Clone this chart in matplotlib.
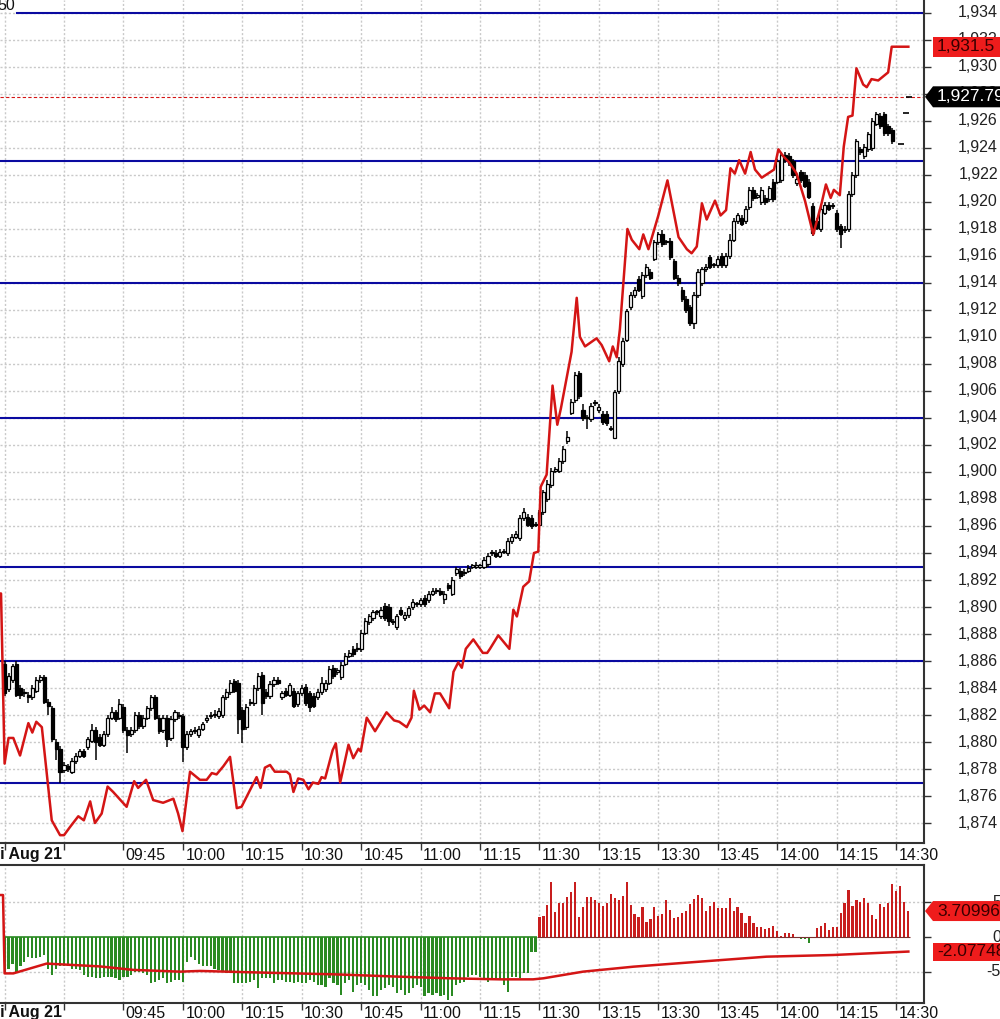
import matplotlib
matplotlib.use("Agg")
import matplotlib.pyplot as plt
import matplotlib.transforms as mtransforms
from matplotlib.patches import Rectangle, Polygon
import numpy as np

plt.rcParams['font.family'] = ['Liberation Sans', 'DejaVu Sans']

# one bar per minute, 0 = 09:15, 135 = 13:00 (lunch break removed)
tick_idx = [0, 15, 30, 45, 60, 75, 90, 105, 120, 135, 150, 165, 180, 195, 210, 225]
tick_lab = ['', '', '09:45', '10:00', '10:15', '10:30', '10:45', '11:00', '11:15',
            '11:30', '13:15', '13:30', '13:45', '14:00', '14:15', '14:30']
date_label = 'Fri Aug 21'

# candles (open, close, high, low)
c_open = [1885.8, 1883.9, 1884.6, 1885.8, 1884.0, 1883.7, 1883.5, 1883.3, 1883.8, 1884.6,
          1884.8, 1883.0, 1882.5, 1880.0, 1879.5, 1877.9, 1878.2, 1877.8, 1878.6, 1879.0,
          1879.3, 1879.6, 1880.1, 1880.9, 1880.4, 1879.8, 1880.6, 1881.8, 1882.2, 1881.8,
          1882.6, 1880.9, 1880.6, 1880.9, 1882.0, 1881.2, 1881.8, 1882.5, 1883.3, 1881.8,
          1880.9, 1881.8, 1880.3, 1881.7, 1882.0, 1881.9, 1879.6, 1880.6, 1880.8, 1880.5,
          1881.0, 1881.6, 1881.9, 1882.0, 1881.9, 1882.0, 1883.3, 1883.7, 1884.5, 1884.4,
          1882.4, 1881.1, 1882.9, 1882.9, 1884.0, 1885.0, 1883.7, 1883.4, 1884.3, 1884.6,
          1883.3, 1883.8, 1883.5, 1883.8, 1882.8, 1883.6, 1884.1, 1883.6, 1883.4, 1883.3,
          1883.7, 1883.9, 1884.4, 1885.5, 1885.2, 1884.8, 1885.8, 1886.4, 1886.9, 1886.9,
          1886.9, 1888.1, 1888.9, 1889.2, 1889.6, 1889.3, 1890.1, 1890.0, 1888.9, 1888.5,
          1889.8, 1889.2, 1889.4, 1890.0, 1890.2, 1890.2, 1890.7, 1890.5, 1891.0, 1891.2,
          1891.2, 1890.6, 1891.6, 1891.0, 1892.5, 1892.7, 1892.5, 1892.7, 1893.0, 1893.0,
          1893.0, 1893.0, 1893.2, 1894.0, 1894.0, 1893.8, 1894.1, 1894.0, 1894.9, 1895.2,
          1895.1, 1896.6, 1896.7, 1896.6, 1896.1, 1896.1, 1897.0, 1898.0, 1899.0, 1900.1,
          1900.1, 1900.8, 1902.3, 1904.4, 1905.3, 1907.3, 1904.6, 1904.0, 1903.9, 1905.1,
          1904.6, 1904.3, 1904.3, 1903.2, 1902.5, 1906.0, 1908.0, 1909.8, 1912.2, 1913.1,
          1914.3, 1913.0, 1914.6, 1914.8, 1915.8, 1917.0, 1917.6, 1917.0, 1917.1, 1915.6,
          1914.4, 1913.5, 1912.8, 1912.2, 1911.0, 1913.1, 1914.0, 1915.0, 1915.9, 1915.3,
          1915.3, 1916.0, 1915.3, 1916.0, 1917.2, 1918.6, 1918.8, 1918.6, 1919.6, 1920.9,
          1920.4, 1920.0, 1920.3, 1920.2, 1921.5, 1921.5, 1921.6, 1923.5, 1923.4, 1923.0,
          1921.4, 1922.2, 1922.0, 1921.5, 1919.7, 1918.6, 1918.0, 1919.2, 1919.8, 1919.7,
          1919.2, 1918.2, 1918.0, 1918.0, 1920.6, 1922.0, 1923.9, 1923.4, 1923.9, 1924.0,
          1925.8, 1926.4, 1926.5, 1925.6, 1925.3]
c_close = [1883.6, 1884.9, 1885.6, 1883.5, 1883.5, 1883.6, 1883.3, 1884.0, 1884.6, 1884.8,
           1883.0, 1882.7, 1880.2, 1879.5, 1877.8, 1878.3, 1878.0, 1878.6, 1879.0, 1879.3,
           1879.0, 1880.2, 1880.9, 1880.0, 1879.8, 1880.6, 1881.8, 1882.2, 1881.7, 1882.8,
           1880.9, 1880.5, 1880.9, 1882.0, 1881.2, 1881.8, 1882.5, 1883.3, 1881.8, 1880.8,
           1881.8, 1880.2, 1881.7, 1882.2, 1881.9, 1879.6, 1880.6, 1880.8, 1880.9, 1881.0,
           1881.3, 1881.8, 1882.0, 1882.0, 1882.3, 1883.3, 1883.7, 1884.4, 1883.8, 1881.7,
           1881.0, 1882.6, 1883.0, 1884.0, 1884.9, 1882.9, 1883.4, 1884.3, 1884.6, 1884.4,
           1883.6, 1883.5, 1884.2, 1882.7, 1883.6, 1884.0, 1882.9, 1882.6, 1882.7, 1883.7,
           1884.4, 1884.4, 1885.4, 1884.9, 1885.3, 1885.7, 1886.4, 1886.6, 1886.5, 1887.0,
           1888.1, 1889.0, 1889.3, 1889.6, 1889.6, 1889.8, 1889.2, 1889.0, 1888.9, 1889.3,
           1889.5, 1889.4, 1889.9, 1890.4, 1890.2, 1890.5, 1890.2, 1891.0, 1891.2, 1891.2,
           1891.0, 1891.0, 1891.4, 1892.0, 1892.8, 1892.3, 1892.6, 1892.9, 1893.0, 1893.1,
           1893.0, 1893.5, 1893.8, 1894.0, 1893.8, 1894.1, 1894.1, 1894.9, 1895.2, 1895.4,
           1896.6, 1897.0, 1896.1, 1896.0, 1896.1, 1897.0, 1898.5, 1899.1, 1900.1, 1900.2,
           1900.8, 1901.7, 1902.6, 1905.2, 1907.2, 1905.6, 1904.0, 1904.0, 1904.9, 1905.1,
           1904.8, 1903.7, 1903.6, 1903.2, 1905.9, 1908.2, 1909.7, 1911.9, 1913.1, 1913.5,
           1913.5, 1914.6, 1915.2, 1914.4, 1917.0, 1917.6, 1916.9, 1917.0, 1915.9, 1914.4,
           1914.0, 1912.8, 1912.0, 1911.0, 1913.1, 1914.8, 1915.0, 1915.2, 1915.2, 1915.3,
           1915.8, 1915.3, 1916.0, 1917.2, 1918.6, 1919.0, 1918.4, 1919.5, 1920.9, 1920.3,
           1920.5, 1920.9, 1920.0, 1921.0, 1920.2, 1923.0, 1923.5, 1923.1, 1922.9, 1922.0,
           1921.7, 1921.6, 1921.2, 1920.4, 1917.7, 1918.1, 1919.5, 1919.8, 1919.5, 1919.7,
           1918.0, 1917.6, 1917.9, 1920.6, 1922.0, 1924.5, 1923.7, 1924.1, 1925.0, 1926.0,
           1926.5, 1925.6, 1925.1, 1925.1, 1924.5]
c_high = [1886.0, 1885.1, 1885.8, 1886.0, 1884.2, 1883.9, 1883.7, 1884.2, 1884.8, 1885.0,
          1885.0, 1883.2, 1882.7, 1880.2, 1879.7, 1878.5, 1878.4, 1878.8, 1879.2, 1879.5,
          1879.5, 1880.4, 1881.3, 1881.1, 1880.6, 1880.8, 1882.0, 1882.6, 1882.4, 1883.2,
          1882.8, 1881.1, 1881.1, 1882.2, 1882.2, 1882.0, 1882.7, 1883.5, 1883.5, 1882.0,
          1882.0, 1882.0, 1881.9, 1882.4, 1882.2, 1882.1, 1880.8, 1881.0, 1881.1, 1881.2,
          1881.5, 1882.0, 1882.2, 1882.4, 1882.5, 1883.5, 1883.9, 1884.6, 1884.7, 1884.6,
          1882.6, 1882.8, 1883.2, 1884.2, 1885.1, 1885.2, 1883.9, 1884.5, 1884.8, 1884.8,
          1883.8, 1884.0, 1884.4, 1884.0, 1883.8, 1884.2, 1884.3, 1883.8, 1883.6, 1883.9,
          1884.8, 1884.6, 1885.6, 1885.7, 1885.5, 1885.9, 1886.6, 1886.8, 1887.1, 1887.3,
          1888.3, 1889.2, 1889.5, 1889.8, 1889.8, 1890.0, 1890.3, 1890.2, 1889.1, 1889.5,
          1890.0, 1889.6, 1890.1, 1890.6, 1890.4, 1890.7, 1890.9, 1891.2, 1891.4, 1891.4,
          1891.4, 1891.2, 1891.8, 1892.2, 1893.0, 1892.9, 1892.8, 1893.1, 1893.2, 1893.3,
          1893.2, 1893.7, 1894.0, 1894.2, 1894.2, 1894.3, 1894.3, 1895.1, 1895.4, 1895.6,
          1896.8, 1897.3, 1896.9, 1896.8, 1896.3, 1897.2, 1898.7, 1899.4, 1900.3, 1900.4,
          1901.0, 1901.9, 1903.0, 1905.4, 1907.4, 1907.5, 1905.0, 1904.2, 1905.1, 1905.3,
          1905.0, 1904.5, 1904.5, 1903.4, 1906.1, 1908.5, 1909.9, 1912.1, 1913.3, 1913.7,
          1914.5, 1914.8, 1915.4, 1915.0, 1917.2, 1917.8, 1917.9, 1917.2, 1917.3, 1915.8,
          1914.6, 1913.7, 1913.0, 1912.4, 1913.3, 1915.0, 1915.2, 1915.4, 1916.1, 1915.5,
          1916.0, 1916.2, 1916.2, 1917.6, 1918.8, 1919.2, 1919.0, 1919.7, 1921.1, 1921.1,
          1920.7, 1921.1, 1920.5, 1921.2, 1921.7, 1923.2, 1923.7, 1923.7, 1923.6, 1923.2,
          1921.9, 1922.4, 1922.2, 1921.7, 1919.9, 1918.8, 1919.7, 1920.0, 1920.0, 1919.9,
          1919.4, 1918.4, 1918.2, 1920.8, 1922.2, 1924.7, 1924.1, 1924.3, 1925.2, 1926.2,
          1926.7, 1926.6, 1926.7, 1925.8, 1925.5]
c_low = [1883.4, 1883.7, 1884.4, 1883.3, 1883.2, 1883.3, 1882.9, 1883.1, 1883.6, 1884.4,
         1882.8, 1882.0, 1880.0, 1878.7, 1877.0, 1877.7, 1877.8, 1877.6, 1878.4, 1878.8,
         1878.8, 1879.4, 1879.9, 1878.7, 1879.6, 1879.6, 1880.4, 1881.6, 1881.5, 1881.6,
         1880.7, 1879.2, 1880.4, 1880.7, 1881.0, 1881.0, 1881.6, 1882.3, 1881.6, 1880.6,
         1880.7, 1879.6, 1880.1, 1881.5, 1881.7, 1878.5, 1879.4, 1880.4, 1880.6, 1880.3,
         1880.8, 1881.4, 1881.7, 1881.8, 1881.7, 1881.8, 1883.1, 1883.5, 1883.6, 1880.6,
         1879.9, 1880.9, 1882.7, 1882.7, 1883.8, 1882.0, 1883.2, 1883.2, 1884.1, 1884.2,
         1883.1, 1883.3, 1883.3, 1882.5, 1882.6, 1883.4, 1882.7, 1882.2, 1882.5, 1883.1,
         1883.5, 1883.7, 1884.2, 1884.7, 1885.0, 1884.6, 1885.6, 1886.2, 1886.3, 1886.7,
         1886.7, 1887.9, 1888.7, 1889.0, 1889.4, 1889.1, 1889.0, 1888.6, 1888.7, 1888.3,
         1889.3, 1889.0, 1889.2, 1889.8, 1890.0, 1890.0, 1890.0, 1890.3, 1890.8, 1891.0,
         1890.8, 1890.2, 1891.2, 1890.8, 1892.3, 1892.1, 1892.3, 1892.5, 1892.8, 1892.8,
         1892.8, 1892.8, 1893.0, 1893.8, 1893.6, 1893.6, 1893.9, 1893.8, 1894.7, 1895.0,
         1894.9, 1896.4, 1895.9, 1895.8, 1895.9, 1895.4, 1896.8, 1897.8, 1898.8, 1899.9,
         1899.9, 1900.6, 1902.1, 1904.2, 1905.1, 1905.4, 1903.8, 1903.2, 1903.7, 1904.9,
         1904.4, 1903.5, 1903.4, 1903.0, 1902.5, 1905.8, 1907.8, 1909.6, 1912.0, 1912.9,
         1913.3, 1912.8, 1914.4, 1914.2, 1915.6, 1916.8, 1916.7, 1916.8, 1915.7, 1914.2,
         1913.8, 1912.6, 1911.8, 1910.8, 1910.6, 1912.9, 1913.8, 1914.8, 1915.0, 1915.1,
         1915.1, 1915.1, 1915.1, 1915.8, 1917.0, 1918.4, 1918.2, 1918.4, 1919.4, 1920.1,
         1920.2, 1919.8, 1919.8, 1920.0, 1920.0, 1921.3, 1921.4, 1922.9, 1922.7, 1921.8,
         1921.2, 1921.4, 1921.0, 1920.2, 1917.5, 1917.9, 1917.8, 1919.0, 1919.3, 1919.5,
         1917.8, 1916.6, 1917.7, 1917.8, 1920.4, 1921.8, 1923.5, 1923.2, 1923.7, 1923.8,
         1925.6, 1925.4, 1924.9, 1924.9, 1924.3]

# red comparison line (vertices: minute index, value)
red_x = [-1.2, -0.9, 0.0, 1, 2.2, 3.9, 6, 7, 8, 9.4, 11.9, 14, 15, 16.5, 18.6, 20, 21.6, 22.8,
         24.5, 26, 27.4, 30.8, 32.7, 33.7, 35.7, 37.5, 40, 42.6, 43.8, 44.9, 46.8, 49.3, 51,
         52.3, 53.5, 55.2, 56.9, 58.6, 59.8, 63.6, 64.6, 65.7, 67, 68.2, 71.2, 72, 72.9, 74.1,
         75.4, 76.7, 77.8, 79.2, 80, 80.9, 82.8, 83.6, 84.7, 86.8, 88, 89.3, 89.9, 91.4, 93.5,
         96.4, 98.3, 99.6, 101.5, 102.7, 103.3, 104.7, 105.9, 107.4, 108.6, 109.9, 112.2,
         113.3, 114.5, 115.4, 116.4, 118.3, 120.7, 121.8, 122.5, 124.6, 127.4, 128.4, 129.3,
         130.9, 132.4, 133.6, 134.7, 135.3, 136.8, 138.3, 139.5, 140.4, 143.1, 144.4, 145.2,
         146.5, 149.4, 150.7, 152.6, 153.5, 154.5, 155.3, 157.2, 158.3, 160.2, 161.2, 162.5,
         165, 167.3, 170.1, 172.2, 173.4, 174.7, 176, 177.2, 179.3, 180.7, 182.1, 183.2, 184.3,
         185.4, 186.9, 188.3, 189.4, 191.1, 193.2, 194.2, 195.3, 196.5, 198.1, 199.9, 202,
         204.1, 206.2, 207.3, 208.5, 209.3, 210.8, 211.8, 212.9, 214, 215, 216.7, 217.6,
         218.8, 220.5, 223, 223.9, 228.1]
red_y = [1891.0, 1891.0, 1878.4, 1880.3, 1880.3, 1879.0, 1881.4, 1880.7, 1881.5, 1881.1,
         1874.2, 1873.1, 1873.1, 1873.7, 1874.5, 1874.2, 1875.6, 1874.0, 1874.7, 1876.7,
         1876.3, 1875.2, 1877.1, 1876.6, 1877.2, 1875.7, 1875.5, 1875.8, 1874.7, 1873.4,
         1877.8, 1877.2, 1877.2, 1877.7, 1877.6, 1878.2, 1878.9, 1875.1, 1875.2, 1877.4,
         1876.6, 1878.1, 1878.3, 1877.8, 1877.8, 1877.6, 1876.3, 1877.3, 1877.2, 1876.5,
         1877.0, 1876.9, 1877.4, 1877.3, 1879.4, 1879.9, 1877.0, 1879.8, 1878.8, 1879.5,
         1879.3, 1881.8, 1880.8, 1882.2, 1881.6, 1881.5, 1881.1, 1881.8, 1883.8, 1882.4,
         1882.7, 1882.2, 1883.6, 1883.6, 1882.5, 1885.2, 1885.9, 1885.5, 1886.9, 1887.6,
         1886.6, 1886.6, 1886.9, 1887.9, 1886.9, 1889.8, 1889.3, 1891.5, 1891.9, 1894.0,
         1894.1, 1898.9, 1899.8, 1906.4, 1903.5, 1904.7, 1908.9, 1912.9, 1910.0, 1909.3,
         1909.9, 1909.4, 1908.2, 1909.3, 1908.5, 1910.6, 1918.0, 1917.2, 1916.5, 1917.6,
         1916.5, 1919.0, 1921.6, 1917.4, 1916.5, 1916.2, 1916.7, 1919.9, 1918.7, 1920.1,
         1919.0, 1919.4, 1922.5, 1922.1, 1923.1, 1922.1, 1923.7, 1922.4, 1921.8, 1922.2,
         1922.4, 1923.9, 1923.4, 1922.9, 1922.1, 1920.1, 1917.6, 1919.9, 1921.3, 1920.3,
         1920.9, 1920.5, 1924.1, 1926.3, 1926.4, 1929.9, 1928.7, 1928.5, 1929.1, 1929.0,
         1929.6, 1931.5, 1931.5]

levels = [1934, 1923, 1914, 1904, 1893, 1886, 1877]
last_price = 1927.79
last_red = 1931.5
dash_x = [228.3, 227.5, 226.3]
dash_y = [1927.8, 1926.6, 1924.3]

# lower panel histogram, one bar per minute from 09:15
hist_vals = [-5.0, -4.5, -3.8, -5.0, -4.2, -3.5, -2.8, -3.0, -3.0, -2.8,
             -2.6, -4.5, -5.4, -4.5, -4.2, -4.2, -4.2, -4.5, -4.5, -4.7,
             -5.4, -5.7, -5.7, -5.9, -5.9, -5.7, -5.7, -5.7, -5.9, -6.1,
             -5.7, -5.7, -5.4, -5.0, -5.0, -5.2, -5.4, -6.6, -6.4, -6.1,
             -5.9, -6.6, -6.4, -6.1, -6.1, -6.4, -3.5, -2.8, -3.3, -3.8,
             -4.2, -4.2, -4.2, -4.5, -4.7, -5.0, -5.2, -5.2, -6.6, -6.6,
             -6.6, -6.6, -6.4, -6.1, -7.3, -5.9, -5.9, -5.9, -6.6, -6.1,
             -6.1, -6.4, -6.4, -6.6, -6.4, -6.6, -6.6, -6.1, -6.4, -6.9,
             -6.9, -7.1, -5.9, -6.6, -6.9, -8.3, -6.6, -6.1, -7.8, -6.9,
             -6.6, -6.9, -7.6, -8.5, -8.5, -7.6, -7.3, -6.9, -7.1, -8.0,
             -7.6, -8.3, -8.0, -7.3, -6.9, -7.1, -8.5, -8.0, -8.3, -8.0,
             -8.5, -8.3, -9.0, -8.5, -6.9, -6.6, -6.4, -5.7, -5.4, -5.4,
             -5.7, -5.9, -6.4, -6.1, -6.1, -6.1, -6.9, -7.8, -5.7, -5.7,
             -5.9, -5.2, -5.2, -2.1, -2.1,
             2.9, 3.0, 4.57, 7.9, 3.62, 4.9, 4.9, 5.67, 6.48, 7.9,
             2.9, 4.24, 5.67, 5.76, 5.29, 4.81, 4.43, 4.9, 6.1, 5.52,
             5.29, 5.9, 7.9, 4.57, 3.29, 2.9, 4.33, 2.19, 2.57, 4.33,
             3.0, 3.29, 5.29, 3.86, 2.76, 2.9, 3.38, 3.76, 4.71, 5.43,
             6.05, 5.52, 3.76, 4.43, 5.0, 4.1, 4.1, 4.1, 5.52, 3.76,
             4.33, 3.48, 1.95, 3.0, 1.95, 1.38, 1.38, 1.14, 1.24, 1.57,
             0.86, 0.14, 0.62, 0.62, 0.38, -0.19, -0.24, -0.33, -0.9, 0.0,
             1.24, 1.57, 1.95, 1.0, 1.48, 1.48, 3.38, 4.9, 6.71, 4.43,
             5.29, 5.05, 5.52, 4.9, 3.14, 2.52, 4.71, 4.33, 4.81, 7.52,
             6.62, 7.33, 5.05, 3.71]
sig_x = [-1.2, -0.4, 0.0, 2.2, 10.6, 24, 32.5, 44.3, 49.3, 66.1, 83, 99.8, 112.4, 125,
         133.4, 136, 146, 158.7, 175.5, 192.3, 209.2, 228.1]
sig_y = [6.0, 6.0, -5.2, -5.2, -3.8, -4.2, -4.7, -4.95, -4.85, -5.1, -5.33, -5.67, -5.9,
         -6.05, -6.05, -5.9, -4.95, -4.24, -3.52, -2.81, -2.57, -2.08]
hist_label = '3.70996'
sig_label = '-2.07748'

RED = '#d41515'
BLUE = '#0a0aa0'
GRID = '#c9c9c9'
SPINE = '#333333'
FS = 11.5
W, H = 1000, 1019

fig = plt.figure(figsize=(W / 100, H / 100), dpi=100)
fig.patch.set_facecolor('white')
ax = fig.add_axes([0, 176 / H, 924 / W, 843 / H])
ax2 = fig.add_axes([0, 16 / H, 924 / W, 138 / H])

xmin, xmax = -1.16, 232.05
for a in (ax, ax2):
    a.set_xlim(xmin, xmax)
    a.set_xticks(tick_idx)
    a.tick_params(axis='x', direction='out', length=5, width=1, color=SPINE, labelbottom=False)
    a.tick_params(axis='y', direction='out', length=5, width=1, color=SPINE, labelleft=False,
                  labelright=False, left=False, right=True)
    for t in tick_idx:
        a.axvline(t, color=GRID, lw=1, ls=(0, (1.5, 1.5)), zorder=0)
    a.spines['left'].set_visible(False)
    for s in ('right', 'bottom', 'top'):
        a.spines[s].set_color(SPINE)
        a.spines[s].set_linewidth(1.5)
ax.spines['top'].set_visible(False)

# ---- upper panel ----
ax.set_ylim(1872.52, 1934.96)
yt = np.arange(1874, 1935, 2)
ax.set_yticks(yt)
for v in yt:
    ax.axhline(v, color=GRID, lw=1, ls=(0, (1.5, 1.5)), zorder=0)
ytr = mtransforms.blended_transform_factory(ax.transAxes, ax.transData)
for v in yt:
    ax.text(998 / 924, v, f'{v:,}', transform=ytr, ha='right', va='center', fontsize=FS,
            color='#222222', clip_on=False)

for i, lv in enumerate(levels):
    ax.axhline(lv, xmin=(17 / 924 if i == 0 else 0), color=BLUE, lw=1.5, zorder=2)
ax.axhline(last_price, color=RED, lw=0.8, ls=(0, (3, 2)), zorder=2)

idx = np.arange(len(c_open))
for i in idx:
    o, c, h, l = c_open[i], c_close[i], c_high[i], c_low[i]
    ax.vlines(i, l, h, color='black', lw=1.1, zorder=3)
    lo, hi = min(o, c), max(o, c)
    fc = 'white' if c >= o else 'black'
    ax.add_patch(Rectangle((i - 0.4, lo), 0.8, max(hi - lo, 0.08), facecolor=fc,
                           edgecolor='black', lw=0.9, zorder=4))
ax.plot(dash_x, dash_y, ls='none', marker='_', ms=4, mew=1.2, color='black', zorder=4)
ax.plot(red_x, red_y, color=RED, lw=1.8, zorder=5, solid_joinstyle='round')


# value tags on the right axis
def tag(axis, yval, text, face, tcolor, arrow, half_px=10):
    tr = mtransforms.blended_transform_factory(axis.transAxes, axis.transData)
    y0, y1 = axis.get_ylim()
    hh = half_px / axis.bbox.height * (y1 - y0)
    x0 = 933 / 924
    x1 = 1002 / 924
    if arrow:
        pts = [(925 / 924, yval), (x0, yval + hh), (x1, yval + hh), (x1, yval - hh), (x0, yval - hh)]
    else:
        pts = [(x0, yval + hh), (x1, yval + hh), (x1, yval - hh), (x0, yval - hh)]
    axis.add_patch(Polygon(pts, closed=True, transform=tr, facecolor=face, edgecolor='none',
                           clip_on=False, zorder=10))
    axis.text(937 / 924, yval, text, transform=tr, ha='left', va='center', fontsize=12.5,
              color=tcolor, clip_on=False, zorder=11)


tag(ax, last_red, '1,931.5', '#ee1c1c', '#3a0000', False)
tag(ax, last_price, '1,927.79', 'black', 'white', True, 10.5)

# x labels of the upper strip
xtr = mtransforms.blended_transform_factory(ax.transData, ax.transAxes)
for t, lab in zip(tick_idx, tick_lab):
    if lab:
        ax.text(t + 0.6, -12 / 843, lab, transform=xtr, ha='left', va='center', fontsize=FS,
                color='#111111', clip_on=False)
ax.text(14.5, -12 / 843, date_label, transform=xtr, ha='right', va='center', fontsize=FS,
        fontweight='bold', color='#111111', clip_on=False)
fig.text(-3 / W, 1 - 10 / H, '50', ha='left', va='baseline', fontsize=FS, color='#111111')

# ---- lower panel ----
ax2.set_ylim(-9.43, 10.29)
ax2.set_yticks([-5, 0, 5])
for v in (-5, 5):
    ax2.axhline(v, color=GRID, lw=1, ls=(0, (1.5, 1.5)), zorder=0)
ytr2 = mtransforms.blended_transform_factory(ax2.transAxes, ax2.transData)
for v in (-5, 0, 5):
    ax2.text(1001 / 924, v, str(v), transform=ytr2, ha='right', va='center', fontsize=FS,
             color='#222222', clip_on=False)
hv = np.array(hist_vals)
hx = np.arange(len(hv))
cols = ['#2a8a22' if v < 0 else '#c81e1e' for v in hv]
ax2.bar(hx, hv, width=0.55, color=cols, zorder=3)
ax2.hlines(0, 0, 134.5, color='#2a8a22', lw=1.2, zorder=3)
ax2.hlines(0, 134.5, len(hv) - 0.5, color='#7a3030', lw=0.8, zorder=3)
ax2.plot(sig_x, sig_y, color=RED, lw=1.8, zorder=5)
tag(ax2, hist_vals[-1], hist_label, '#ee1c1c', '#3a0000', True)
tag(ax2, sig_y[-1], sig_label, '#ee1c1c', '#3a0000', False, 9)

xtr2 = mtransforms.blended_transform_factory(ax2.transData, ax2.transAxes)
for t, lab in zip(tick_idx, tick_lab):
    if lab:
        ax2.text(t + 0.6, -10 / 138, lab, transform=xtr2, ha='left', va='center', fontsize=FS,
                 color='#111111', clip_on=False)
ax2.text(14.5, -10 / 138, date_label, transform=xtr2, ha='right', va='center', fontsize=FS,
         fontweight='bold', color='#111111', clip_on=False)

fig.savefig('out.png', dpi=100, facecolor='white')
